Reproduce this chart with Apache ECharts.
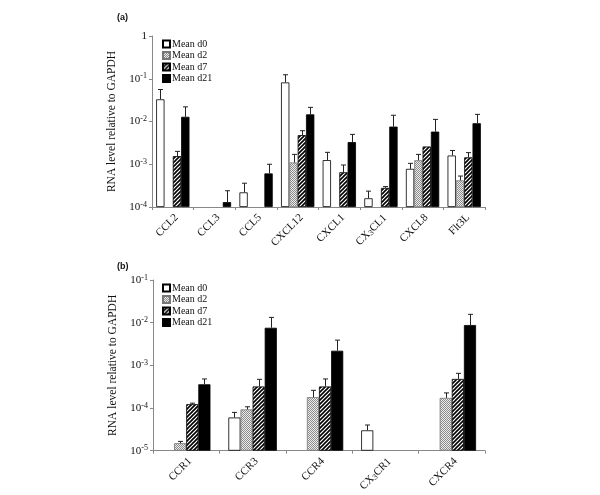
<!DOCTYPE html>
<html><head><meta charset="utf-8">
<script src="https://cdn.jsdelivr.net/npm/echarts@6/dist/echarts.min.js"></script>
<style>html,body{margin:0;padding:0;background:#fff}#c{width:600px;height:495px}</style>
</head><body><div id="c"></div>
<script>
const seriesNames = ['Mean d0', 'Mean d2', 'Mean d7', 'Mean d21'];

const categoriesA = ['CCL2', 'CCL3', 'CCL5', 'CXCL12', 'CXCL1', 'CX3CL1', 'CXCL8', 'Flt3L'];
const d0A = [0.033, null, 2.2e-4, 0.082, 1.25e-3, 1.6e-4, 7.8e-4, 1.6e-3];
const d0AErr = [0.056, null, 3.6e-4, 0.124, 1.9e-3, 2.35e-4, 1.05e-3, 2.1e-3];
const d2A = [null, null, null, 1.1e-3, null, null, 1.24e-3, 4.2e-4];
const d2AErr = [null, null, null, 1.7e-3, null, null, 1.7e-3, 5.3e-4];
const d7A = [1.55e-3, null, null, 4.8e-3, 6.5e-4, 2.8e-4, 2.6e-3, 1.45e-3];
const d7AErr = [2.0e-3, null, null, 6.1e-3, 9.6e-4, 3.0e-4, null, 1.87e-3];
const d21A = [0.0129, 1.3e-4, 6.1e-4, 0.0147, 3.3e-3, 7.6e-3, 5.8e-3, 9.1e-3];
const d21AErr = [0.022, 2.4e-4, 1.0e-3, 0.0214, 5.0e-3, 0.014, 0.0112, 0.0147];

const categoriesB = ['CCR1', 'CCR3', 'CCR4', 'CX3CR1', 'CXCR4'];
const d0B = [null, 6.0e-5, null, 3.0e-5, null];
const d0BErr = [null, 7.9e-5, null, 4.0e-5, null];
const d2B = [1.5e-5, 9.3e-5, 1.8e-4, null, 1.73e-4];
const d2BErr = [1.65e-5, 1.07e-4, 2.6e-4, null, 2.26e-4];
const d7B = [1.23e-4, 3.2e-4, 3.2e-4, null, 4.8e-4];
const d7BErr = [1.3e-4, 4.7e-4, 4.8e-4, null, 6.5e-4];
const d21B = [3.6e-4, 7.6e-3, 2.2e-3, null, 8.8e-3];
const d21BErr = [4.8e-4, 0.0133, 3.9e-3, null, 0.0157];

const yRangeA = [1e-4, 1];
const yRangeB = [1e-5, 0.1];

const SERIF = 'Liberation Serif, Times New Roman, serif';

function makeDots() {
  const c = document.createElement('canvas'); c.width = 2; c.height = 2;
  const g = c.getContext('2d');
  g.fillStyle = '#ececec'; g.fillRect(0, 0, 2, 2);
  g.fillStyle = '#8c8c8c'; g.fillRect(0, 0, 1, 1); g.fillRect(1, 1, 1, 1);
  return c;
}
function makeStripes() {
  const s = 4;
  const c = document.createElement('canvas'); c.width = s; c.height = s;
  const g = c.getContext('2d');
  g.fillStyle = '#fff'; g.fillRect(0, 0, s, s);
  g.strokeStyle = '#000'; g.lineWidth = 1.6;
  g.beginPath();
  g.moveTo(-1, s + 1); g.lineTo(s + 1, -1);
  g.moveTo(-1, 1); g.lineTo(1, -1);
  g.moveTo(s - 1, s + 1); g.lineTo(s + 1, s - 1);
  g.stroke();
  return c;
}
const styles = [
  { color: '#ffffff', borderColor: '#000', borderWidth: 0.8 },
  { color: { image: makeDots(), repeat: 'repeat' }, borderColor: '#777', borderWidth: 0.8 },
  { color: { image: makeStripes(), repeat: 'repeat' }, borderColor: '#000', borderWidth: 0.8 },
  { color: '#000000', borderColor: '#000', borderWidth: 0.8 }
];

function fmtLog(v) {
  const e = Math.round(Math.log10(v));
  if (e === 0) return '{b|1}';
  return '{b|10}{s|' + e + '}';
}
function fmtCat(v) {
  const m = v.match(/^CX3(.*)$/);
  if (m) return '{n|CX}{u|3}{n|' + m[1] + '}';
  return '{n|' + v + '}';
}

const grids = [
  { left: 152, right: 115, top: 36, height: 171 },
  { left: 153, right: 115, top: 280, height: 170.7 }
];

function xAxis(idx, cats) {
  return {
    type: 'category', gridIndex: idx, data: cats,
    axisLine: { lineStyle: { color: '#888', width: 1 } },
    axisTick: { show: true, length: 3, lineStyle: { color: '#888' } },
    axisLabel: {
      interval: 0, rotate: 45, margin: 5, color: '#111', verticalAlign: 'top',
      formatter: fmtCat,
      rich: {
        n: { fontFamily: SERIF, fontSize: 11, color: '#111' },
        u: { fontFamily: SERIF, fontSize: 8, color: '#111', verticalAlign: 'bottom', padding: [4, 0, 0, 0] }
      }
    },
    splitLine: { show: false }
  };
}
function yAxis(idx, range) {
  return {
    type: 'log', logBase: 10, gridIndex: idx, min: range[0], max: range[1], startValue: range[0],
    name: 'RNA level relative to GAPDH', nameLocation: 'middle', nameRotate: 90, nameGap: 27,
    nameTextStyle: { fontFamily: SERIF, fontSize: 11.5, color: '#111' },
    axisLine: { show: true, lineStyle: { color: '#888', width: 1 } },
    axisTick: { show: true, length: 3, lineStyle: { color: '#888' } },
    minorTick: { show: false },
    splitLine: { show: false },
    axisLabel: {
      margin: 5, formatter: fmtLog,
      rich: {
        b: { fontFamily: SERIF, fontSize: 11, color: '#111' },
        s: { fontFamily: SERIF, fontSize: 8, color: '#111', verticalAlign: 'top', padding: [0, 0, 5, 0] }
      }
    }
  };
}

const GAP = [0.2, 0.27];

function barSeries(idx, vals) {
  return vals.map((arr, i) => ({
    type: 'bar', name: seriesNames[i], xAxisIndex: idx, yAxisIndex: idx,
    data: arr, barGap: '0%', barCategoryGap: (GAP[idx] * 100) + '%',
    itemStyle: styles[i], emphasis: { disabled: true }, animation: false
  }));
}
function errSeries(idx, vals, errs) {
  return vals.map((arr, i) => {
    const data = [];
    arr.forEach((v, k) => { if (v != null && errs[i][k] != null) data.push([k, v, errs[i][k]]); });
    return {
      type: 'custom', xAxisIndex: idx, yAxisIndex: idx, data: data, animation: false, z: 5,
      encode: { x: 0, y: 1 }, silent: true,
      renderItem: function (params, api) {
        const k = api.value(0), v = api.value(1), e = api.value(2);
        const band = api.size([1, v])[0];
        const bw = band * (1 - GAP[idx]) / 4;
        const base = api.coord([k, v]);
        const top = api.coord([k, e]);
        const x = Math.round(base[0] + (i - 1.5) * bw) + 0.5;
        const cap = 2.5;
        return {
          type: 'group', children: [
            { type: 'line', shape: { x1: x, y1: base[1], x2: x, y2: top[1] }, style: { stroke: '#222', lineWidth: 1 } },
            { type: 'line', shape: { x1: x - cap, y1: top[1], x2: x + cap, y2: top[1] }, style: { stroke: '#222', lineWidth: 1 } }
          ]
        };
      }
    };
  });
}

const legendBase = {
  orient: 'vertical', left: 157, itemWidth: 7, itemHeight: 7, itemGap: 1.5, icon: 'rect',
  textStyle: { fontFamily: SERIF, fontSize: 10, color: '#111', padding: [0, 0, 0, -3] },
  data: seriesNames, selectedMode: false
};

const chart = echarts.init(document.getElementById('c'), null, { renderer: 'canvas' });
chart.setOption({
  backgroundColor: '#fff',
  animation: false,
  title: [
    { text: '(a)', left: 112, top: 8, textStyle: { fontFamily: 'Liberation Sans, Arial, sans-serif', fontSize: 9, fontWeight: 'bold', color: '#111' } },
    { text: '(b)', left: 112, top: 257, textStyle: { fontFamily: 'Liberation Sans, Arial, sans-serif', fontSize: 9, fontWeight: 'bold', color: '#111' } }
  ],
  legend: [
    Object.assign({}, legendBase, { top: 34 }),
    Object.assign({}, legendBase, { top: 278 })
  ],
  grid: grids,
  xAxis: [xAxis(0, categoriesA), xAxis(1, categoriesB)],
  yAxis: [yAxis(0, yRangeA), yAxis(1, yRangeB)],
  series: [].concat(
    barSeries(0, [d0A, d2A, d7A, d21A]),
    barSeries(1, [d0B, d2B, d7B, d21B]),
    errSeries(0, [d0A, d2A, d7A, d21A], [d0AErr, d2AErr, d7AErr, d21AErr]),
    errSeries(1, [d0B, d2B, d7B, d21B], [d0BErr, d2BErr, d7BErr, d21BErr])
  )
});
</script></body></html>
